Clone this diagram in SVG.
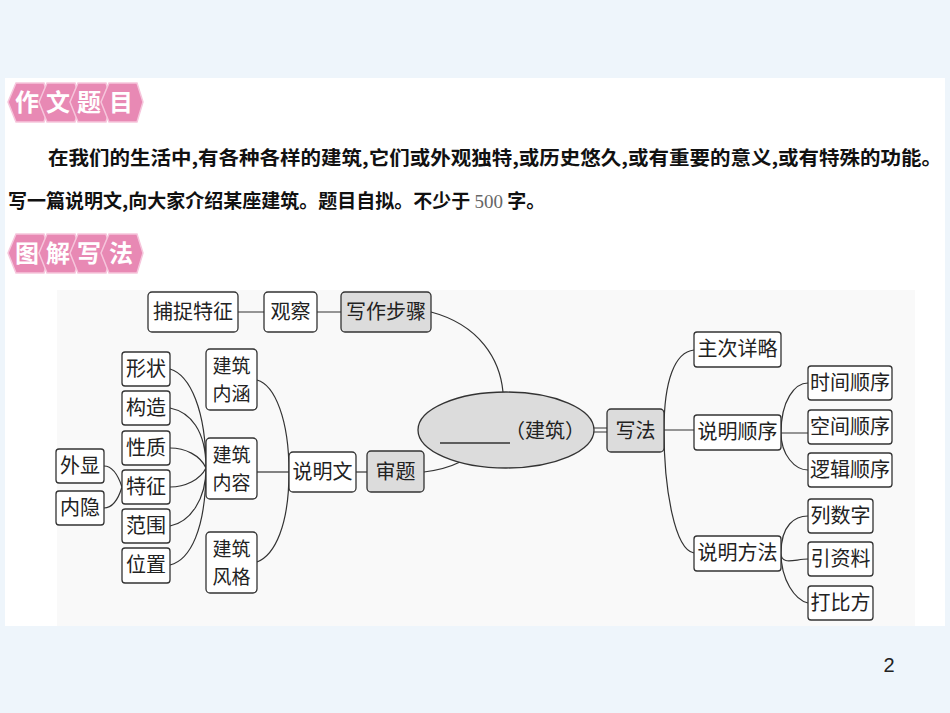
<svg xmlns="http://www.w3.org/2000/svg" width="950" height="713" viewBox="0 0 950 713">
<style>
.b{fill:#fff;stroke:#333;stroke-width:1.3}
.g{fill:#dcdcdc;stroke:#333;stroke-width:1.3}
.t{font-family:"Noto Sans CJK SC",sans-serif;font-size:20px;fill:#222;text-anchor:middle}
.t2{font-family:"Noto Sans CJK SC",sans-serif;font-size:19px;fill:#222;text-anchor:middle}
.c{fill:none;stroke:#333;stroke-width:1.2}
.hex{fill:#e889b4;stroke:#f6c6dc;stroke-width:1.5}
.ht{font-family:"Noto Sans CJK SC",sans-serif;font-size:24px;font-weight:bold;fill:#fff;text-anchor:middle}
.p{font-family:"Noto Sans CJK SC",sans-serif;font-size:19px;font-weight:bold;fill:#111}
</style>
<rect width="950" height="713" fill="#eef5fb"/>
<rect x="5" y="78" width="940" height="548" fill="#fff"/>
<rect x="57" y="290" width="858" height="336" fill="#f9f9f9"/>
<g id="title1">
<polygon class="hex" points="8,102 16,83 44,83 50,102 44,122 16,122"/>
<polygon class="hex" points="39,102 47,83 75,83 81,102 75,122 47,122"/>
<polygon class="hex" points="70,102 78,83 106,83 112,102 106,122 78,122"/>
<polygon class="hex" points="101,102 109,83 137,83 143,102 137,122 109,122"/>
<text class="ht" x="27" y="111">作</text><text class="ht" x="58" y="111">文</text><text class="ht" x="89" y="111">题</text><text class="ht" x="121" y="111">目</text>
</g>
<text class="p" x="48" y="165" textLength="894" lengthAdjust="spacingAndGlyphs">在我们的生活中,有各种各样的建筑,它们或外观独特,或历史悠久,或有重要的意义,或有特殊的功能。</text>
<text class="p" x="8" y="208">写一篇说明文,向大家介绍某座建筑。题目自拟。不少于 <tspan font-weight="normal" fill="#666" font-family="Liberation Serif,serif">500</tspan> 字。</text>
<g id="title2">
<polygon class="hex" points="8,253 16,234 44,234 50,253 44,273 16,273"/>
<polygon class="hex" points="39,253 47,234 75,234 81,253 75,273 47,273"/>
<polygon class="hex" points="70,253 78,234 106,234 112,253 106,273 78,273"/>
<polygon class="hex" points="101,253 109,234 137,234 143,253 137,273 109,273"/>
<text class="ht" x="27" y="262">图</text><text class="ht" x="58" y="262">解</text><text class="ht" x="89" y="262">写</text><text class="ht" x="121" y="262">法</text>
</g>
<g id="connectors">
<path class="c" d="M238,312H264M317,312H341"/>
<path class="c" d="M431,312C480,325 500,360 503,392"/>
<path class="c" d="M424,472C440,470 452,466 460,462"/>
<path class="c" d="M594,428H607M594,432H607"/>
<path class="c" d="M356,472H367"/>
<path class="c" d="M289,472H257"/>
<path class="c" d="M289,472C289,420 275,385 257,380M289,472C289,525 275,555 257,562"/>
<path class="c" d="M206,468C206,410 190,375 170,369M206,468C206,430 190,412 170,408M206,468C200,455 185,448 170,448M206,468C200,480 185,487 170,487M206,468C206,500 190,522 170,526M206,468C206,530 190,560 170,565"/>
<path class="c" d="M122,487C118,475 112,466 104,466M122,487C118,500 112,508 104,508"/>
<path class="c" d="M664,430H694M664,430C664,380 675,352 694,350M664,430C664,490 675,550 694,553"/>
<path class="c" d="M781,433H808M781,433C781,400 795,383 808,383M781,433C781,455 795,470 808,470"/>
<path class="c" d="M781,553C781,525 795,516 808,516M781,553C781,566 795,559 808,559M781,553C781,580 795,600 808,603"/>
</g>
<g id="n-bz"><rect class="b" x="148" y="292" width="90" height="40" rx="4"/><text class="t" x="193" y="319">捕捉特征</text></g>
<g id="n-gc"><rect class="b" x="264" y="292" width="53" height="40" rx="4"/><text class="t" x="290.5" y="319">观察</text></g>
<g id="n-xzbz"><rect class="g" x="341" y="292" width="90" height="40" rx="4"/><text class="t" x="386" y="319">写作步骤</text></g>
<g id="n-xz"><rect class="b" x="122" y="352" width="48" height="34" rx="3"/><text class="t" x="146" y="376">形状</text></g>
<g id="n-gz"><rect class="b" x="122" y="391" width="48" height="34" rx="3"/><text class="t" x="146" y="415">构造</text></g>
<g id="n-xzh"><rect class="b" x="122" y="431" width="48" height="34" rx="3"/><text class="t" x="146" y="455">性质</text></g>
<g id="n-tz"><rect class="b" x="122" y="470" width="48" height="34" rx="3"/><text class="t" x="146" y="494">特征</text></g>
<g id="n-fw"><rect class="b" x="122" y="509" width="48" height="34" rx="3"/><text class="t" x="146" y="533">范围</text></g>
<g id="n-wz"><rect class="b" x="122" y="548" width="48" height="35" rx="3"/><text class="t" x="146" y="572">位置</text></g>
<g id="n-wx"><rect class="b" x="56" y="449" width="48" height="34" rx="3"/><text class="t" x="80" y="473">外显</text></g>
<g id="n-ny"><rect class="b" x="56" y="491" width="48" height="34" rx="3"/><text class="t" x="80" y="515">内隐</text></g>
<g id="n-nh"><rect class="b" x="206" y="349" width="51" height="61" rx="4"/><text class="t2" x="231.5" y="373">建筑</text><text class="t2" x="231.5" y="401">内涵</text></g>
<g id="n-nr"><rect class="b" x="206" y="438" width="51" height="61" rx="4"/><text class="t2" x="231.5" y="462">建筑</text><text class="t2" x="231.5" y="490">内容</text></g>
<g id="n-fg"><rect class="b" x="206" y="532" width="51" height="61" rx="4"/><text class="t2" x="231.5" y="556">建筑</text><text class="t2" x="231.5" y="584">风格</text></g>
<g id="n-smw"><rect class="b" x="289" y="452" width="67" height="40" rx="4"/><text class="t" x="322.5" y="479">说明文</text></g>
<g id="n-st"><rect class="g" x="367" y="451" width="57" height="41" rx="4"/><text class="t" x="395.5" y="479">审题</text></g>
<g id="n-center"><ellipse cx="506" cy="430" rx="88" ry="38" fill="#dcdcdc" stroke="#333" stroke-width="1.3"/><line x1="440" y1="443" x2="510" y2="443" stroke="#333" stroke-width="1.3"/><text class="t" x="545" y="438">（建筑）</text></g>
<g id="n-xf"><rect class="g" x="607" y="409" width="57" height="43" rx="4"/><text class="t" x="635.5" y="438">写法</text></g>
<g id="n-zc"><rect class="b" x="694" y="332" width="87" height="35" rx="3"/><text class="t" x="737.5" y="356">主次详略</text></g>
<g id="n-sx"><rect class="b" x="694" y="415" width="87" height="35" rx="3"/><text class="t" x="737.5" y="439">说明顺序</text></g>
<g id="n-ff"><rect class="b" x="694" y="536" width="87" height="35" rx="3"/><text class="t" x="737.5" y="560">说明方法</text></g>
<g id="n-sj"><rect class="b" x="808" y="366" width="84" height="34" rx="3"/><text class="t" x="850" y="390">时间顺序</text></g>
<g id="n-kj"><rect class="b" x="808" y="410" width="84" height="34" rx="3"/><text class="t" x="850" y="434">空间顺序</text></g>
<g id="n-lj"><rect class="b" x="808" y="453" width="84" height="34" rx="3"/><text class="t" x="850" y="477">逻辑顺序</text></g>
<g id="n-ls"><rect class="b" x="808" y="499" width="65" height="34" rx="3"/><text class="t" x="840.5" y="523">列数字</text></g>
<g id="n-yz"><rect class="b" x="808" y="542" width="65" height="34" rx="3"/><text class="t" x="840.5" y="566">引资料</text></g>
<g id="n-db"><rect class="b" x="808" y="586" width="65" height="34" rx="3"/><text class="t" x="840.5" y="610">打比方</text></g>
<text x="889" y="672" font-family="Liberation Sans,sans-serif" font-size="20" fill="#222" text-anchor="middle">2</text>
</svg>
